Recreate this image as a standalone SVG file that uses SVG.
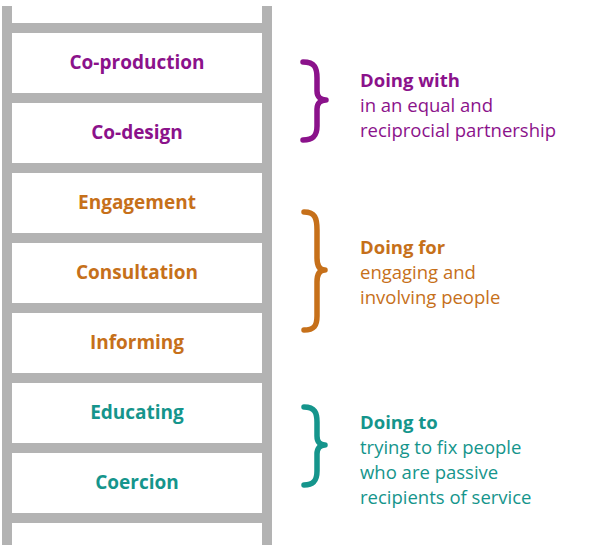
<svg xmlns="http://www.w3.org/2000/svg" width="600" height="553" viewBox="0 0 600 553">
<style>
.rail{fill:#b3b3b3}
.lbl{font-family:"Open Sans","Liberation Sans",sans-serif;font-weight:700;font-size:19px;text-anchor:middle}
.hd{font-family:"Open Sans","Liberation Sans",sans-serif;font-weight:700;font-size:18.5px}
.bd{font-family:"Open Sans","Liberation Sans",sans-serif;font-weight:400;font-size:18.5px}
.brace{fill:none;stroke-width:5.5;stroke-linecap:round;stroke-linejoin:round}
.p{fill:#8b128b}.o{fill:#c6701a}.t{fill:#15958c}
.bp{stroke:#8b128b}.bo{stroke:#c6701a}.bt{stroke:#15958c}
</style>
<rect width="600" height="553" fill="#ffffff"/>
<g id="ladder">
<rect class="rail" x="2" y="6" width="10" height="539"/>
<rect class="rail" x="262" y="6" width="10" height="539"/>
<rect class="rail" x="12" y="23" width="250" height="10"/>
<rect class="rail" x="12" y="93" width="250" height="10"/>
<rect class="rail" x="12" y="163" width="250" height="10"/>
<rect class="rail" x="12" y="233" width="250" height="10"/>
<rect class="rail" x="12" y="303" width="250" height="10"/>
<rect class="rail" x="12" y="373" width="250" height="10"/>
<rect class="rail" x="12" y="443" width="250" height="10"/>
<rect class="rail" x="12" y="513" width="250" height="10"/>
</g>
<g id="coproduction"><text class="lbl p" x="137" y="69">Co-production</text></g>
<g id="codesign"><text class="lbl p" x="137" y="139">Co-design</text></g>
<g id="engagement"><text class="lbl o" x="137" y="209">Engagement</text></g>
<g id="consultation"><text class="lbl o" x="137" y="279">Consultation</text></g>
<g id="informing"><text class="lbl o" x="137" y="349">Informing</text></g>
<g id="educating"><text class="lbl t" x="137" y="419">Educating</text></g>
<g id="coercion"><text class="lbl t" x="137" y="489">Coercion</text></g>
<g id="doing-with">
<path class="brace bp" d="M303,62 C315,62 317,68 317,78 L317,91 C317,97 321,100 326,100 C321,100 317,103 317,109 L317,126 C317,135 314,140 303,140"/>
<text class="hd p" x="360" y="87">Doing with</text>
<text class="bd p" x="360" y="112">in an equal and</text>
<text class="bd p" x="360" y="137">reciprocial partnership</text>
</g>
<g id="doing-for">
<path class="brace bo" d="M304,212 C315,212 317,218 317,230 L317,258 C317,266 320,270 325,270 C320,270 317,274 317,282 L317,316 C317,326 314,330 304,330"/>
<text class="hd o" x="360" y="254">Doing for</text>
<text class="bd o" x="360" y="279">engaging and</text>
<text class="bd o" x="360" y="304">involving people</text>
</g>
<g id="doing-to">
<path class="brace bt" d="M304,407 C315,407 317,413 317,422 L317,436 C317,442 320,445 325,445 C320,445 317,448 317,454 L317,471 C317,480 314,485 304,485"/>
<text class="hd t" x="360" y="429">Doing to</text>
<text class="bd t" x="360" y="454">trying to fix people</text>
<text class="bd t" x="360" y="479">who are passive</text>
<text class="bd t" x="360" y="504">recipients of service</text>
</g>
<g id="connectors"></g>
</svg>
